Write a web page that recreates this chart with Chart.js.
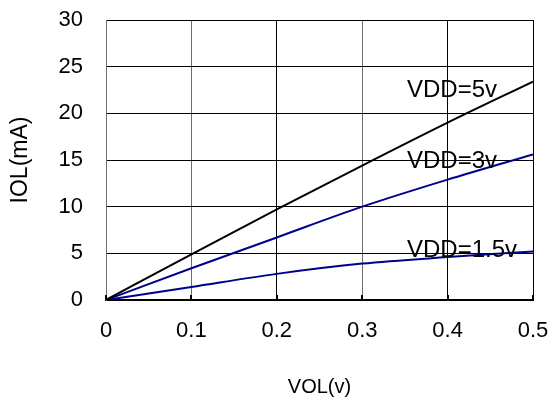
<!DOCTYPE html>
<html>
<head>
<meta charset="utf-8">
<script src="https://cdn.jsdelivr.net/npm/chart.js@4"></script>
<style>
  html, body { margin: 0; padding: 0; background: #fff; }
  #wrap { width: 552px; height: 401px; }
</style>
</head>
<body>
<div id="wrap"><canvas id="c" width="552" height="401"></canvas></div>
<script>
// ---- data ----
const vol = [0, 0.1, 0.2, 0.3, 0.4, 0.5];
const iolVdd5 = [0, 4.9, 9.7, 14.4, 19.0, 23.4];
const iolVdd3 = [0, 3.4, 6.7, 10.0, 12.9, 15.6];
const iolVdd15 = [0, 1.4, 2.8, 3.9, 4.6, 5.2];
const seriesNames = ['VDD=5v', 'VDD=3v', 'VDD=1.5v'];
const labelAnchors = [[0.3525, 22.5], [0.3525, 14.9], [0.3525, 5.35]];
const xTickLabels = ['0', '0.1', '0.2', '0.3', '0.4', '0.5'];
const yTickLabels = ['0', '5', '10', '15', '20', '25', '30'];

const FONT = "'Liberation Sans', Arial, sans-serif";
const pts = ys => vol.map((x, i) => ({ x, y: ys[i] }));

const curveLabels = {
  id: 'curveLabels',
  afterDatasetsDraw(chart) {
    const { ctx, scales: { x, y } } = chart;
    ctx.save();
    ctx.font = '24px ' + FONT;
    ctx.fillStyle = '#000';
    ctx.textAlign = 'left';
    ctx.textBaseline = 'middle';
    seriesNames.forEach((name, i) => {
      ctx.fillText(name, x.getPixelForValue(labelAnchors[i][0]), y.getPixelForValue(labelAnchors[i][1]));
    });
    // small inner tick marks on the bottom axis
    ctx.strokeStyle = '#000';
    ctx.lineWidth = 2;
    const yb = y.getPixelForValue(0);
    vol.forEach(v => {
      const px = Math.round(x.getPixelForValue(v));
      ctx.beginPath();
      ctx.moveTo(px, yb);
      ctx.lineTo(px, yb - 5);
      ctx.stroke();
    });
    ctx.restore();
  }
};

const lineStyle = { borderWidth: 2, pointRadius: 0, cubicInterpolationMode: 'monotone', fill: false };

new Chart(document.getElementById('c'), {
  type: 'line',
  data: {
    datasets: [
      Object.assign({ label: seriesNames[0], data: pts(iolVdd5), borderColor: '#000000' }, lineStyle),
      Object.assign({ label: seriesNames[1], data: pts(iolVdd3), borderColor: '#00008b' }, lineStyle),
      Object.assign({ label: seriesNames[2], data: pts(iolVdd15), borderColor: '#00008b' }, lineStyle)
    ]
  },
  options: {
    responsive: false,
    animation: false,
    events: [],
    layout: { padding: { top: 20, right: 19, left: 0, bottom: 0 } },
    plugins: { legend: { display: false }, tooltip: { enabled: false } },
    scales: {
      x: {
        type: 'linear',
        min: 0, max: 0.5,
        afterFit(s) { s.height = 101; s.paddingLeft = 0; s.paddingRight = 0; },
        afterBuildTicks(s) { s.ticks = vol.map(v => ({ value: v })); },
        ticks: {
          autoSkip: false, maxRotation: 0,
          color: '#000', padding: 18,
          font: { family: FONT, size: 22 },
          callback: (v, i) => xTickLabels[i]
        },
        grid: {
          drawTicks: false,
          lineWidth: 1,
          color: ctx => (ctx.index === 1 || ctx.index === 3) ? '#6e6e6e' : '#000'
        },
        border: { color: '#000', width: 2 },
        title: {
          display: true, text: 'VOL(v)', color: '#000',
          font: { family: FONT, size: 20 },
          padding: { top: 0, bottom: 2 }
        }
      },
      y: {
        type: 'linear',
        min: 0, max: 30,
        afterFit(s) { s.width = 106; s.paddingTop = 0; s.paddingBottom = 0; },
        afterBuildTicks(s) { s.ticks = yTickLabels.map(t => ({ value: Number(t) })); },
        ticks: {
          color: '#000', padding: 23,
          font: { family: FONT, size: 22 },
          callback: (v, i) => yTickLabels[i]
        },
        grid: { drawTicks: false, lineWidth: 1, color: '#000' },
        border: { color: '#6e6e6e', width: 1 },
        title: {
          display: true, text: 'IOL(mA)', color: '#000',
          font: { family: FONT, size: 23 },
          padding: { top: 7, bottom: 0 }
        }
      }
    }
  },
  plugins: [curveLabels]
});
</script>
</body>
</html>
